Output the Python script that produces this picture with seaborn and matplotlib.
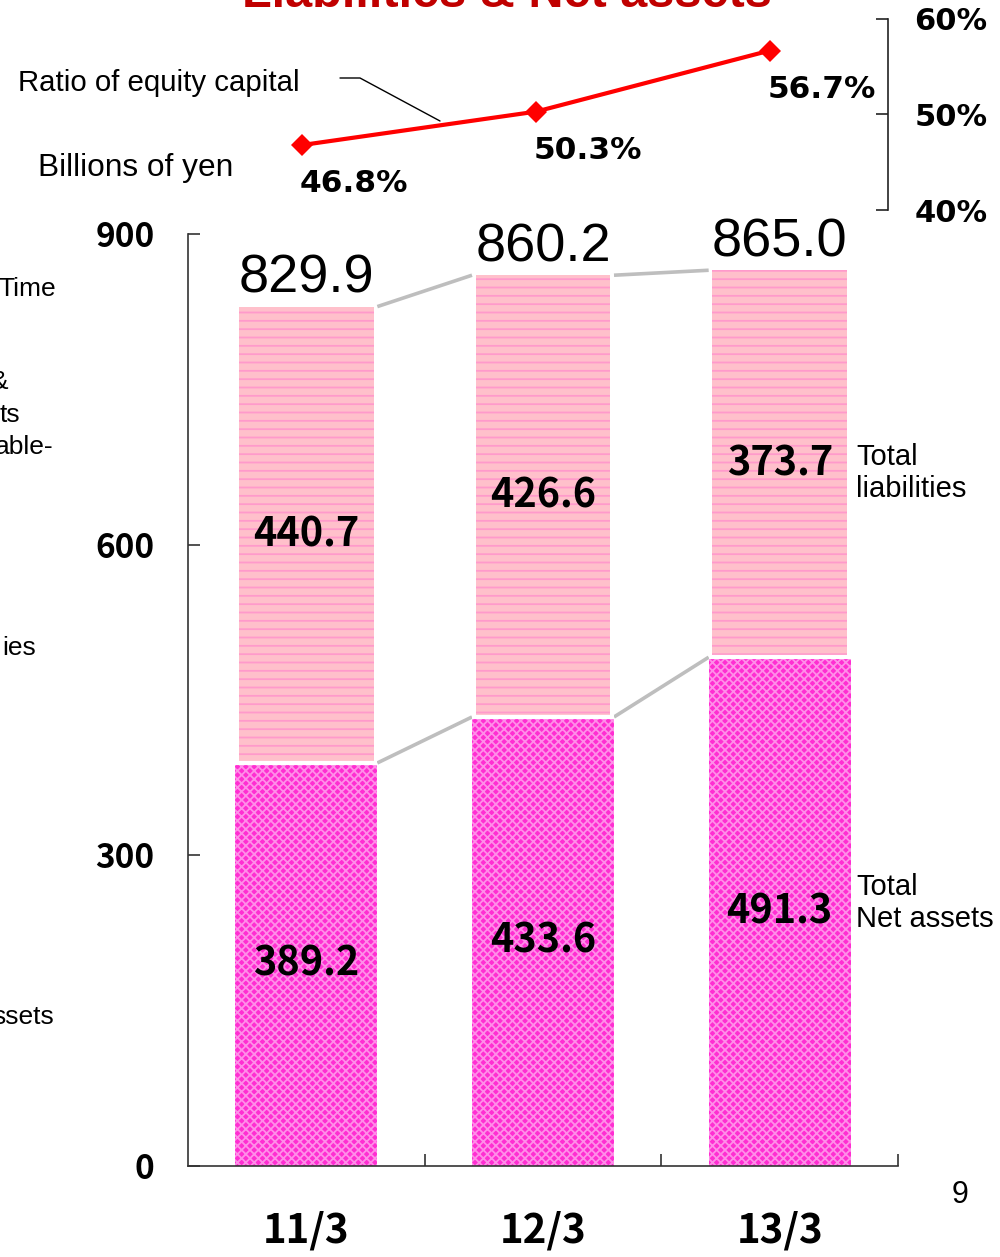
import numpy as np
import pandas as pd
import matplotlib
matplotlib.use("Agg")
import matplotlib.pyplot as plt
from matplotlib.lines import Line2D
import seaborn as sns

# ---------------- data ----------------
periods = ["11/3", "12/3", "13/3"]
net_assets = [389.2, 433.6, 491.3]
liabilities = [440.7, 426.6, 373.7]
totals = [829.9, 860.2, 865.0]
equity_ratio = [46.8, 50.3, 56.7]
y_ticks = [0, 300, 600, 900]
pct_ticks = [40, 50, 60]
left_fragments = ["Time", "&", "ts", "able-", "ies", "ssets"]

W, H = 1000, 1257
sns.set_theme(style="white")
plt.rcParams['font.family'] = ['Liberation Sans', 'DejaVu Sans']
plt.rcParams['hatch.linewidth'] = 1.3
for k in ['text.color', 'axes.labelcolor', 'xtick.color', 'ytick.color']:
    plt.rcParams[k] = 'black'

fig = plt.figure(figsize=(W / 100, H / 100), dpi=100)


def fx(px):
    return px / W


def fy(py):
    return 1 - py / H


NUMFONT = ['Noto Sans CJK JP', 'DejaVu Sans']

ax = fig.add_axes([fx(188), fy(1166), fx(898) - fx(188), fy(234) - fy(1166)])
df = pd.DataFrame({"period": periods, "net": net_assets,
                   "liab": liabilities, "total": totals})

sns.barplot(data=df, x="period", y="net", order=periods, color="#FF2ED2",
            saturation=1, width=0.6, errorbar=None, hatch="xxxx",
            edgecolor="#FF8EE8", linewidth=0, ax=ax, zorder=2)
sns.barplot(data=df, x="period", y="liab", order=periods, color="#FFC0CB",
            saturation=1, width=0.57, errorbar=None,
            bottom=df["net"].to_numpy(), hatch="--",
            edgecolor="#FF9ACB", linewidth=0, ax=ax, zorder=2)

net_patches = ax.patches[:3]
liab_patches = ax.patches[3:6]

# white separators between the stacked segments
for p in net_patches:
    ax.plot([p.get_x(), p.get_x() + p.get_width()], [p.get_height()] * 2,
            color="white", lw=3, zorder=3, solid_capstyle="butt")

# grey connector lines
for i in range(len(periods) - 1):
    a, b = net_patches[i], net_patches[i + 1]
    la, lb = liab_patches[i], liab_patches[i + 1]
    ax.plot([a.get_x() + a.get_width(), b.get_x()],
            [a.get_height(), b.get_height()],
            color="#BEBEBE", lw=2.6, zorder=1, solid_capstyle="butt")
    ax.plot([a.get_x() + a.get_width(), b.get_x()],
            [la.get_y() + la.get_height(), lb.get_y() + lb.get_height()],
            color="#BEBEBE", lw=2.6, zorder=1, solid_capstyle="butt")

# segment labels
for p, v in zip(net_patches, net_assets):
    ax.text(p.get_x() + p.get_width() / 2, p.get_y() + p.get_height() / 2,
            f"{v:.1f}", ha='center', va='center', fontsize=28.5,
            fontweight='bold', family=NUMFONT, zorder=5, color='black')
for p, v in zip(liab_patches, liabilities):
    ax.text(p.get_x() + p.get_width() / 2, p.get_y() + p.get_height() / 2,
            f"{v:.1f}", ha='center', va='center', fontsize=28.5,
            fontweight='bold', family=NUMFONT, zorder=5, color='black')
# totals
for p, t in zip(liab_patches, totals):
    ax.annotate(f"{t:.1f}", xy=(p.get_x() + p.get_width() / 2, p.get_y() + p.get_height()),
                xytext=(0, 10), textcoords='offset points', ha='center',
                va='baseline', fontsize=39, zorder=5, color='black')

ax.set_ylim(0, 900)
ax.set_xlim(-0.5, 2.5)
ax.set_yticks(y_ticks)
ax.set_yticklabels([str(v) for v in y_ticks], fontsize=24,
                   fontweight='bold', family=NUMFONT)
ax.set_xticks(range(len(periods)))
ax.set_xticklabels(periods, fontsize=29, fontweight='bold', family=NUMFONT)
ax.set_xticks([0.5, 1.5, 2.5], minor=True)
ax.set_xlabel("")
ax.set_ylabel("")
for s in ["top", "right"]:
    ax.spines[s].set_visible(False)
for s in ["left", "bottom"]:
    ax.spines[s].set_color("#333333")
    ax.spines[s].set_linewidth(1.2)
ax.tick_params(axis='y', direction='in', length=8.6, width=1.2,
               color='#333333', labelcolor='black', pad=24, left=True)
ax.tick_params(axis='x', which='major', length=0, pad=32, bottom=True,
               labelcolor='black')
ax.tick_params(axis='x', which='minor', direction='in', length=8.6,
               width=1.2, color='#333333', bottom=True)
ax.patch.set_alpha(0)

# ---------------- ratio line ----------------
lax = fig.add_axes([fx(188), fy(210), fx(888) - fx(188), fy(19) - fy(210)])
lax.patch.set_alpha(0)
xs = np.arange(len(periods))
sns.lineplot(x=xs, y=equity_ratio, ax=lax, color='#FF0000', lw=3,
             marker='D', markersize=11, markeredgewidth=0)
lax.set_xlim(-0.4872, 2.5043)
lax.set_ylim(40, 60)
for s in ["left", "top", "bottom"]:
    lax.spines[s].set_visible(False)
lax.spines["right"].set_visible(True)
lax.spines["right"].set_color("#222222")
lax.spines["right"].set_linewidth(1.2)
lax.set_xticks([])
lax.yaxis.tick_right()
lax.set_yticks(pct_ticks)
lax.set_yticklabels([f"{v}%" for v in pct_ticks], fontsize=22,
                    fontweight='bold', family='DejaVu Sans')
lax.tick_params(axis='y', direction='in', length=8.6, width=1.2,
                color='#222222', labelcolor='black', right=True, left=False,
                pad=19)
lax.set_xlabel("")
lax.set_ylabel("")
for x, v in zip(xs, equity_ratio):
    lax.annotate(f"{v}%", xy=(x, v), xytext=(37, -28),
                 textcoords='offset points', ha='center', va='center',
                 fontsize=22.5, fontweight='bold', family='DejaVu Sans',
                 color='black')

# leader line for the ratio label
fig.add_artist(Line2D([fx(340), fx(360), fx(440)], [fy(78), fy(78), fy(121)],
                      color='black', lw=1.0, transform=fig.transFigure))

# ---------------- texts ----------------
fig.text(0.507, fy(7), "Liabilities & Net assets", ha='center', va='baseline',
         fontsize=35, fontweight='bold', color='#C00000')
fig.text(fx(18), fy(83), "Ratio of equity capital", ha='left', va='center',
         fontsize=21.2, color='black')
fig.text(fx(38), fy(168), "Billions of yen", ha='left', va='center',
         fontsize=22.8, color='black')
fig.text(fx(856), fy(473), "Total\nliabilities", ha='left', va='center',
         fontsize=21, color='black')
fig.text(fx(856), fy(903), "Total\nNet assets", ha='left', va='center',
         fontsize=21, color='black')
fig.text(fx(960), fy(1195), "9", ha='center', va='center', fontsize=22,
         color='black')

frag_pos = [(56, 289), (8, 382), (20, 415), (54, 447), (36, 648), (54, 1017)]
for t, (px, py) in zip(left_fragments, frag_pos):
    fig.text(fx(px), fy(py), t, ha='right', va='center', fontsize=19,
             color='black')

fig.savefig("out.png", dpi=100)
